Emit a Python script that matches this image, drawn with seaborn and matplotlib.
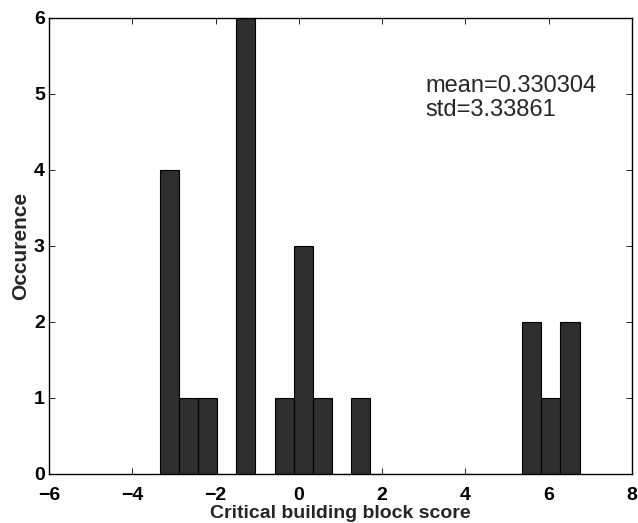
import numpy as np
import pandas as pd
import matplotlib
matplotlib.use("Agg")
import matplotlib.pyplot as plt
import seaborn as sns

# histogram: 22 equal bins between these edges
bin_lo, bin_hi = -3.33, 6.74
counts = [4, 1, 1, 0, 6, 0, 1, 3, 1, 0, 1, 0, 0, 0, 0, 0, 0, 0, 0, 2, 1, 2]
stats_text = "mean=0.330304\nstd=3.33861"
x_ticks = [-6, -4, -2, 0, 2, 4, 6, 8]
y_ticks = [0, 1, 2, 3, 4, 5, 6]

edges = np.linspace(bin_lo, bin_hi, len(counts) + 1)
df = pd.DataFrame({'score': (edges[:-1] + edges[1:]) / 2, 'n': counts})

sns.set_style("ticks")
plt.rcParams['font.family'] = ['Liberation Sans', 'DejaVu Sans']

fig = plt.figure(figsize=(6.38, 5.23), dpi=100)
ax = fig.add_axes([49 / 638, 1 - 474 / 523, (632 - 49) / 638, (474 - 18) / 523])

sns.histplot(data=df, x='score', weights='n', bins=list(edges), ax=ax,
             color="#2e2e2e", edgecolor="black", linewidth=0.8, alpha=1)

ax.set_xlim(-6, 8)
ax.set_ylim(0, 6)
ax.set_xticks(x_ticks)
ax.set_yticks(y_ticks)
ax.set_xticklabels([str(t).replace('-', '\u2212') for t in x_ticks],
                   fontsize=14, fontweight='bold')
ax.set_yticklabels([str(t) for t in y_ticks], fontsize=14, fontweight='bold')
ax.tick_params(direction='in', top=True, right=True, length=4, width=0.6,
               colors='black')
ax.tick_params(axis='x', pad=9)
ax.tick_params(axis='y', pad=3)
for sp in ax.spines.values():
    sp.set_linewidth(1.0)
    sp.set_color('black')

ax.set_xlabel("Critical building block score", fontsize=14, fontweight='bold', labelpad=1)
ax.set_ylabel("Occurence", fontsize=15, fontweight='bold', labelpad=3)

ax.text(3.05, 4.95, stats_text, fontsize=17, va='center', linespacing=1.1)

fig.savefig("out.png", dpi=100)
